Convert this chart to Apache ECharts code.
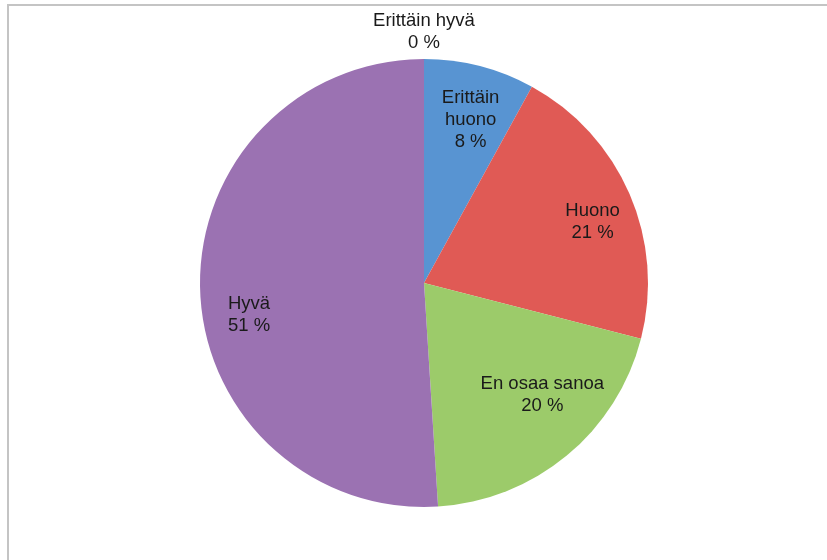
<!DOCTYPE html>
<html>
<head>
<meta charset="utf-8">
<title>Arvio</title>
<script src="https://cdn.jsdelivr.net/npm/echarts@6/dist/echarts.min.js"></script>
<style>
  html, body { margin: 0; padding: 0; background: #fff; }
  #chart { width: 827px; height: 560px; }
</style>
</head>
<body>
<div id="chart"></div>
<script>
// Answer categories, clockwise from 12 o'clock
const categories = ['Erittäin huono', 'Huono', 'En osaa sanoa', 'Hyvä', 'Erittäin hyvä'];
// Share of answers (%)
const shares = [8, 21, 20, 51, 0];
// Label text shown on each slice (line breaks as in the chart)
const labelNames = ['Erittäin\nhuono', 'Huono', 'En osaa sanoa', 'Hyvä', 'Erittäin hyvä'];

const sliceColors = ['#5894d2', '#e05a55', '#9ccb6a', '#9b72b2', '#f2a540'];
// Nudges from the default inside label spot, per slice
const labelShift = [[18, -52], [63, -15], [45, 23], [-60, 28], [0, -136]];

const chart = echarts.init(document.getElementById('chart'), null, { renderer: 'canvas' });

chart.setOption({
  animation: false,
  backgroundColor: '#ffffff',
  graphic: [{
    type: 'rect',
    shape: { x: 8, y: 5, width: 900, height: 700 },
    style: { fill: 'none', stroke: '#c4c4c4', lineWidth: 2 },
    silent: true
  }],
  series: [{
    type: 'pie',
    center: [424, 283],
    radius: [0, 224],
    startAngle: 90,
    clockwise: true,
    avoidLabelOverlap: false,
    minShowLabelAngle: -1,
    itemStyle: { borderWidth: 0 },
    label: {
      show: true,
      position: 'inside',
      fontFamily: 'Liberation Sans, Arial, sans-serif',
      fontSize: 18.5,
      lineHeight: 22,
      color: '#1a1a1a',
      align: 'center',
      formatter: function (p) {
        return labelNames[p.dataIndex] + '\n' + p.value + ' %';
      }
    },
    labelLine: { show: false },
    labelLayout: function (params) {
      const s = labelShift[params.dataIndex];
      return { dx: s[0], dy: s[1] };
    },
    data: categories.map(function (name, i) {
      return { name: name, value: shares[i], itemStyle: { color: sliceColors[i] } };
    })
  }]
});
</script>
</body>
</html>
